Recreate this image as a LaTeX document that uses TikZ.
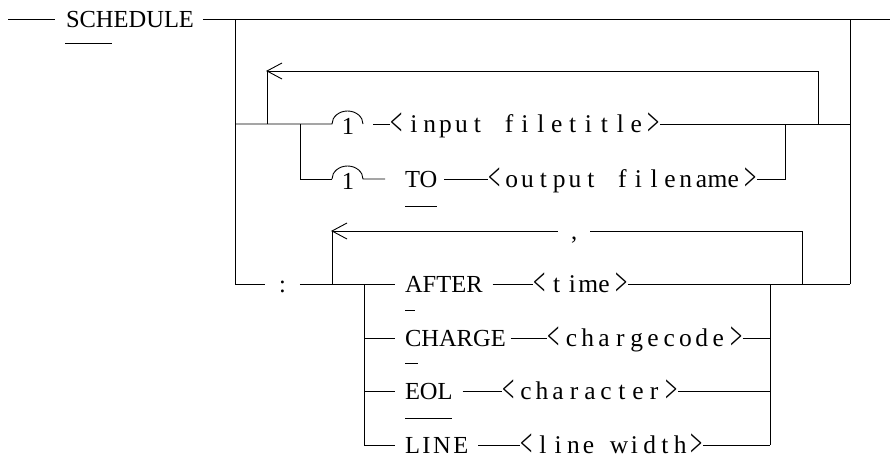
\documentclass[tikz,border=0pt]{standalone}
\usepackage{graphicx}
\usepackage{fontspec}
\setmainfont{Liberation Serif}
\usetikzlibrary{calc}
\makeatletter
\newlength\pitchlen
\newcommand\ltg{\raisebox{-3.5pt}{\scalebox{0.85}[1.55]{<}}}
\newcommand\gtg{\raisebox{-3.5pt}{\scalebox{0.85}[1.55]{>}}}
\newcommand\brk[2]{\setlength\pitchlen{#1}\makebox[\pitchlen][l]{\ltg}\@tfor\tmpc:=#2\do{\makebox[\pitchlen][c]{\tmpc}}\makebox[\pitchlen][r]{\gtg}}
\makeatother
\begin{document}
\begin{tikzpicture}[x=1pt,y=-1pt,line width=0.9pt,
  kw/.style={font=\fontsize{24.5}{28}\selectfont, inner sep=0pt, outer sep=0pt,
             text height=20pt, text depth=4pt, anchor=west},
  br/.style={kw,font=\fontsize{25.5}{28}\selectfont}]
\useasboundingbox (0,0) rectangle (890,469);
% ---------- main line ----------
\coordinate (start) at (8,19);
\coordinate (exit) at (890,19);
\coordinate (lt) at (235,19);
\coordinate (lb) at (235,284);
\coordinate (rt) at (850,19);
\coordinate (rb) at (850,284);
\node[kw] (sch) at (66,19) {SCHEDULE};
\draw (start) -- ([xshift=-11pt]sch.west);
\draw ([xshift=9pt]sch.east) -- (exit);
\draw ($(sch.west)+(-1,24)$) -- ++(47,0);
\draw (lt) -- (lb);
\draw (rt) -- (rb);
% ---------- file row ----------
\coordinate (a1) at (332,124);
\coordinate (a2) at (332,179);
\node[kw,anchor=center] (one1) at (348,126) {1};
\node[kw,anchor=center] (one2) at (348,181) {1};
\draw (235,124) -- (a1) arc[start angle=180,end angle=0,x radius=15.5pt,y radius=13pt];
\draw (a2) arc[start angle=180,end angle=0,x radius=15.5pt,y radius=13pt] -- (385,179);
\node[br] (inp) at (390,124) {\brk{15.88pt}{input~filetitle}};
\draw (373,124) -- (inp.west);
\draw (inp.east) -- (850,124);
% loop above
\coordinate (lp1) at (267,71);
\draw (267,124) -- (lp1) -- (818,71) -- (818,124);
\draw ($(lp1)+(15,-8)$) -- (lp1) -- ($(lp1)+(15,8)$);
% TO branch
\draw (300,124) -- (300,179) -- (a2);
\node[kw] (to) at (405,179) {TO};
\draw ($(to.west)+(0,27)$) -- ++(32,0);
\node[br] (outp) at (488,179) {\brk{15.82pt}{output~filename}};
\draw ([xshift=7pt]to.east) -- (outp.west);
\draw (outp.east) -- (785,179) -- (785,124);
% ---------- colon row ----------
\node[kw] (colon) at (279,284) {:};
\draw (lb) -- ([xshift=-14pt]colon.west);
\node[kw] (after) at (405,284) {AFTER};
\draw ([xshift=14pt]colon.east) -- ([xshift=-10pt]after.west);
\draw ($(after.west)+(0,26)$) -- ++(10,0);
\node[br] (time) at (533,284) {\brk{15.8pt}{time}};
\draw ([xshift=10pt]after.east) -- (time.west);
\draw (time.east) -- (rb);
% comma loop
\coordinate (lp2) at (332,231);
\node[kw] (comma) at (571,231) {,};
\draw (332,284) -- (lp2) -- ([xshift=-13pt]comma.west);
\draw ([xshift=13pt]comma.east) -- (802,231) -- (802,284);
\draw ($(lp2)+(15,-8)$) -- (lp2) -- ($(lp2)+(15,8)$);
% branches
\draw (364,284) -- (364,445);
\draw (770,284) -- (770,445);
\node[kw] (charge) at (405,338) {CHARGE};
\draw (364,338) -- ([xshift=-10pt]charge.west);
\draw ($(charge.west)+(0,25)$) -- ++(13,0);
\node[br] (ccode) at (547,338) {\brk{16.3pt}{chargecode}};
\draw ([xshift=5pt]charge.east) -- (ccode.west);
\draw (ccode.east) -- (770,338);
\node[kw] (eol) at (405,391) {EOL};
\draw (364,391) -- ([xshift=-10pt]eol.west);
\draw ($(eol.west)+(0,27)$) -- ++(47,0);
\node[br] (chr) at (502,391) {\brk{16pt}{character}};
\draw ([xshift=10pt]eol.east) -- (chr.west);
\draw (chr.east) -- (770,391);
\node[kw] (line) at (405,445) {L\kern2.5pt I\kern2.5pt N\kern2.5pt E};
\draw (364,445) -- ([xshift=-10pt]line.west);
\node[br] (lw) at (520,445) {\brk{15.25pt}{line~width}};
\draw ([xshift=10pt]line.east) -- (lw.west);
\draw (lw.east) -- (770,445);
\end{tikzpicture}
\end{document}
